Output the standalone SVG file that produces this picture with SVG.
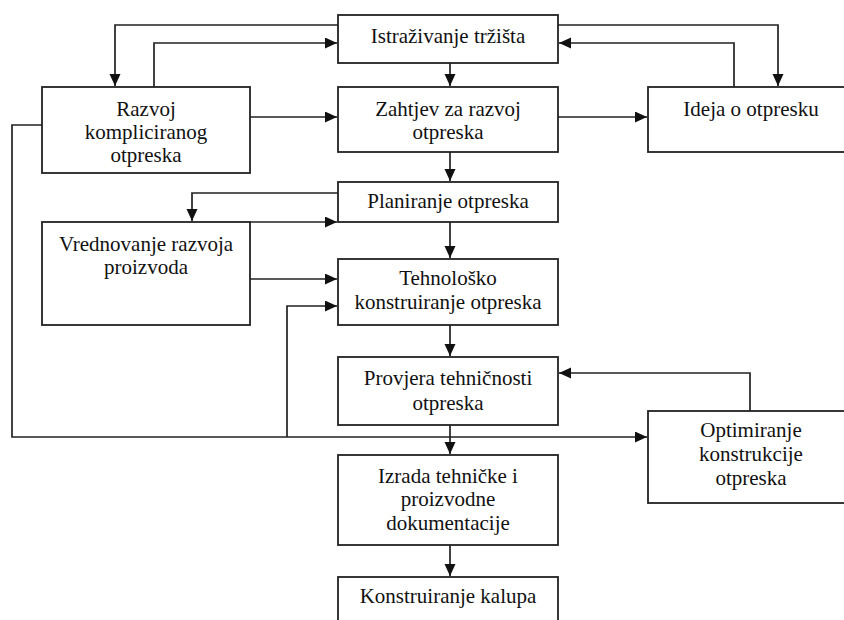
<svg xmlns="http://www.w3.org/2000/svg" width="844" height="620" viewBox="0 0 844 620">
<style>
.box{fill:#fff;stroke:#222;stroke-width:1.8}
.t{font-family:"Liberation Serif","Times New Roman",serif;font-size:21px;fill:#111;text-anchor:middle}
.c{fill:none;stroke:#222;stroke-width:1.7}
</style>
<defs>
<marker id="ah" markerUnits="userSpaceOnUse" markerWidth="13" markerHeight="12" refX="12" refY="5.5" orient="auto">
<path d="M0,0 L12,5.5 L0,11 z" fill="#111"/>
</marker>
</defs>
<rect width="844" height="620" fill="#fff"/>
<g id="connectors">
<path class="c" d="M338,25 H115 V86" marker-end="url(#ah)"/>
<path class="c" d="M154,87 V43 H337" marker-end="url(#ah)"/>
<path class="c" d="M558,25 H778 V86" marker-end="url(#ah)"/>
<path class="c" d="M734,87 V43 H559" marker-end="url(#ah)"/>
<path class="c" d="M450,63 V86" marker-end="url(#ah)"/>
<path class="c" d="M250,117 H337" marker-end="url(#ah)"/>
<path class="c" d="M558,117 H647" marker-end="url(#ah)"/>
<path class="c" d="M450,152 V181" marker-end="url(#ah)"/>
<path class="c" d="M338,193 H192 V221" marker-end="url(#ah)"/>
<path class="c" d="M250,222 H337" marker-end="url(#ah)"/>
<path class="c" d="M450,222 V258" marker-end="url(#ah)"/>
<path class="c" d="M250,279 H337" marker-end="url(#ah)"/>
<path class="c" d="M287,437 V306 H337" marker-end="url(#ah)"/>
<path class="c" d="M450,325 V356" marker-end="url(#ah)"/>
<path class="c" d="M42,125 H12 V437 H647" marker-end="url(#ah)"/>
<path class="c" d="M450,425 V454" marker-end="url(#ah)"/>
<path class="c" d="M750,411 V373 H559" marker-end="url(#ah)"/>
<path class="c" d="M450,545 V576" marker-end="url(#ah)"/>
</g>
<g id="istrazivanje">
<rect class="box" x="338" y="15" width="220" height="48"/>
<text class="t" x="448" y="43">Istraživanje tržišta</text>
</g>
<g id="razvoj">
<rect class="box" x="42" y="87" width="208" height="86"/>
<text class="t" x="146" y="116">Razvoj</text>
<text class="t" x="146" y="139">kompliciranog</text>
<text class="t" x="146" y="162">otpreska</text>
</g>
<g id="zahtjev">
<rect class="box" x="338" y="87" width="220" height="65"/>
<text class="t" x="448" y="116">Zahtjev za razvoj</text>
<text class="t" x="448" y="139">otpreska</text>
</g>
<g id="ideja">
<rect class="box" x="648" y="87" width="208" height="65"/>
<text class="t" x="751" y="116">Ideja o otpresku</text>
</g>
<g id="planiranje">
<rect class="box" x="338" y="182" width="220" height="40"/>
<text class="t" x="448" y="208">Planiranje otpreska</text>
</g>
<g id="vrednovanje">
<rect class="box" x="42" y="222" width="208" height="103"/>
<text class="t" x="146" y="251">Vrednovanje razvoja</text>
<text class="t" x="146" y="274">proizvoda</text>
</g>
<g id="tehnolosko">
<rect class="box" x="338" y="259" width="220" height="66"/>
<text class="t" x="448" y="285">Tehnološko</text>
<text class="t" x="448" y="309">konstruiranje otpreska</text>
</g>
<g id="provjera">
<rect class="box" x="338" y="357" width="220" height="68"/>
<text class="t" x="448" y="385">Provjera tehničnosti</text>
<text class="t" x="448" y="410">otpreska</text>
</g>
<g id="optimiranje">
<rect class="box" x="648" y="411" width="208" height="92"/>
<text class="t" x="751" y="437">Optimiranje</text>
<text class="t" x="751" y="461">konstrukcije</text>
<text class="t" x="751" y="485">otpreska</text>
</g>
<g id="izrada">
<rect class="box" x="338" y="455" width="220" height="90"/>
<text class="t" x="448" y="483">Izrada tehničke i</text>
<text class="t" x="448" y="506">proizvodne</text>
<text class="t" x="448" y="530">dokumentacije</text>
</g>
<g id="konstruiranje">
<rect class="box" x="338" y="577" width="220" height="63"/>
<text class="t" x="448" y="603">Konstruiranje kalupa</text>
</g>
</svg>
